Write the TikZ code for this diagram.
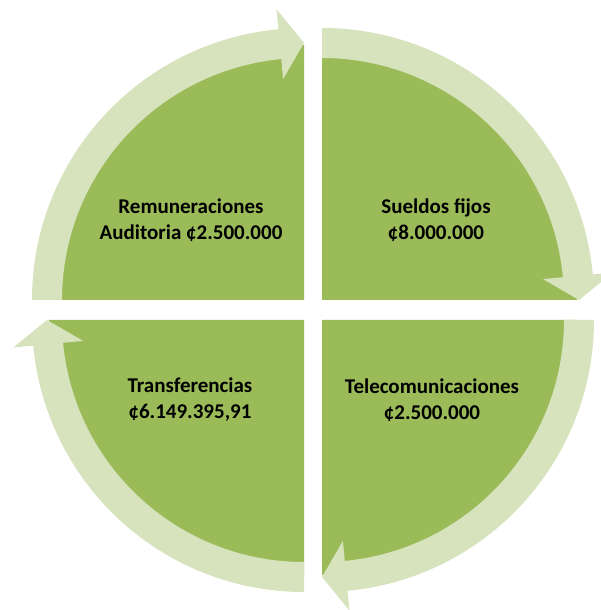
\documentclass[tikz,border=0pt]{standalone}
\usepackage{fontspec}
\setmainfont{Carlito}
\definecolor{wedgegreen}{HTML}{9BBB59}
\definecolor{bandgreen}{HTML}{D6E3BD}

\begin{document}
\begin{tikzpicture}[x=1pt,y=1pt,
	wedge/.style={fill=wedgegreen},
	band/.style={fill=bandgreen},
	amount/.style={font=\fontsize{21}{26}\selectfont\bfseries, align=center, text=black}]
		\useasboundingbox (0,0) rectangle (601,610);
		
		% Draw the four quarters with their arrows
		\foreach \cx/\cy/\a [evaluate=\a as \b using \a-90, evaluate=\a as \c using \a-84.6] in {304/310/180, 322/310/90, 322/290/0, 304/290/-90}
		{
			\fill[wedge, shift={(\cx,\cy)}] (0,0) -- (\a:255) arc[start angle=\a, end angle=\b, radius=255] -- cycle;
			\fill[band, shift={(\cx,\cy)}] (\a:242) -- (\a:272) arc[start angle=\a, end angle=\c, radius=272]
				-- (\c:292) -- (\b:257) -- (\c:222) -- (\c:242)
				arc[start angle=\c, end angle=\a, radius=242] -- cycle;
		}
		
		% Add amounts
		\node[amount] (auditoria) at (191,390) {Remuneraciones\\Auditoria ¢2.500.000};
		\node[amount] (sueldos) at (436,390) {Sueldos fijos\\¢8.000.000};
		\node[amount] (telecom) at (432,210) {Telecomunicaciones\\¢2.500.000};
		\node[amount] (transfer) at (190,210) {Transferencias\\¢6.149.395,91};
	\end{tikzpicture}
\end{document}
